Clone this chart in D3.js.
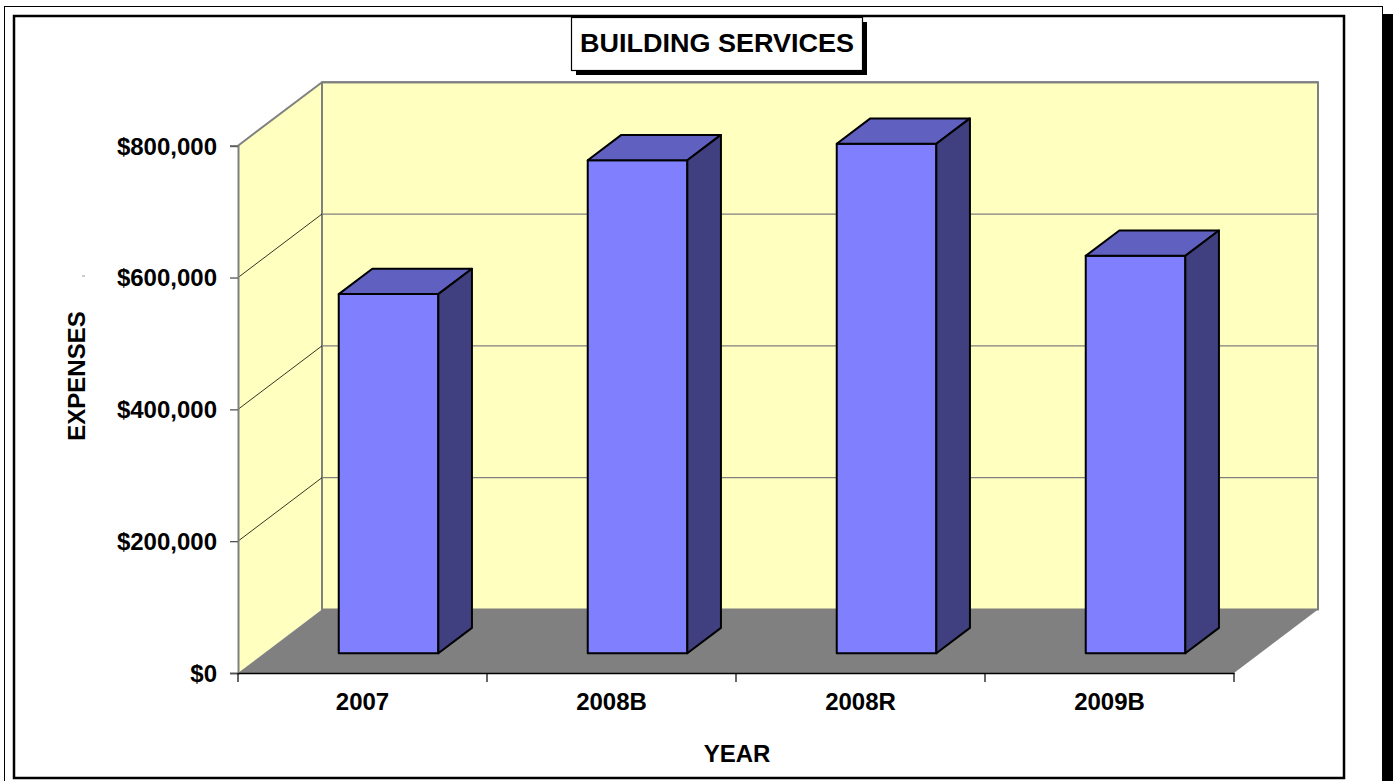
<!DOCTYPE html>
<html>
<head>
<meta charset="utf-8">
<script src="https://cdn.jsdelivr.net/npm/d3@7"></script>
<style>
body { margin: 0; background: #fff; }
text { font-family: "Liberation Sans", Arial, sans-serif; font-weight: bold; fill: #000; }
</style>
</head>
<body>
<script>
const years = ['2007', '2008B', '2008R', '2009B'];
const expenses = [545000, 748000, 773000, 603000];
const yTicks = [0, 200000, 400000, 600000, 800000];

const W = 1393, H = 781;
const plotLeft = 238, plotRight = 1234, plotBase = 673, plotTop = 145.7;
const depthX = 84, depthY = -63.5;   // full depth of the 3d box
const bar0 = 0.31, bar1 = 0.71;       // bar position along depth

const svg = d3.select('body').append('svg').attr('width', W).attr('height', H);

// outer frame + shadow
svg.append('rect').attr('x', 1383).attr('y', 14).attr('width', 10).attr('height', H - 14).attr('fill', '#000');
svg.append('rect').attr('x', 4.5).attr('y', 6.5).attr('width', 1378).attr('height', 800)
   .attr('fill', 'none').attr('stroke', '#000').attr('stroke-width', 1);
svg.append('rect').attr('x', 14).attr('y', 16).attr('width', 1330).attr('height', 762)
   .attr('fill', '#fff').attr('stroke', '#000').attr('stroke-width', 2.5);

const x = d3.scaleBand().domain(years).range([plotLeft, plotRight]);
const xBar = d3.scaleBand().domain(years).range([plotLeft, plotRight]).paddingInner(0.6).paddingOuter(0.3);
const y = d3.scaleLinear().domain([0, 800000]).range([plotBase, plotTop]);

// point on front plane x, value v, depth d (0 front .. 1 back)
const proj = (px, v, d) => [px + d * depthX, y(v) + d * depthY];
const poly = pts => 'M' + pts.map(p => p.join(',')).join('L') + 'Z';
const vMax = y.domain()[1];

// walls
svg.append('path')
   .attr('d', poly([proj(plotLeft, 0, 0), proj(plotLeft, 0, 1), proj(plotLeft, vMax, 1), proj(plotLeft, vMax, 0)]))
   .attr('fill', '#FFFFC0');
svg.append('path')
   .attr('d', poly([proj(plotLeft, 0, 1), proj(plotRight, 0, 1), proj(plotRight, vMax, 1), proj(plotLeft, vMax, 1)]))
   .attr('fill', '#FFFFC0').attr('stroke', '#808080').attr('stroke-width', 2);
// floor
svg.append('path')
   .attr('d', poly([proj(plotLeft, 0, 0), proj(plotRight, 0, 0), proj(plotRight, 0, 1), proj(plotLeft, 0, 1)]))
   .attr('fill', '#808080');

// gridlines
const grid = svg.append('g');
yTicks.filter(v => v > 0).forEach(v => {
	grid.append('line')
		.attr('x1', proj(plotLeft, v, 1)[0]).attr('y1', proj(plotLeft, v, 1)[1])
		.attr('x2', proj(plotRight, v, 1)[0]).attr('y2', proj(plotRight, v, 1)[1])
		.attr('stroke', '#808080').attr('stroke-width', v === vMax ? 2 : 1.3);
	grid.append('line')
		.attr('x1', proj(plotLeft, v, 0)[0]).attr('y1', proj(plotLeft, v, 0)[1])
		.attr('x2', proj(plotLeft, v, 1)[0]).attr('y2', proj(plotLeft, v, 1)[1])
		.attr('stroke', v === vMax ? '#808080' : '#000').attr('stroke-width', v === vMax ? 2 : 0.8);
});

// bars
const data = years.map((c, i) => ({ c, v: expenses[i] }));
const bars = svg.selectAll('g.bar').data(data).enter().append('g').attr('class', 'bar')
	.attr('stroke', '#000').attr('stroke-width', 2).attr('stroke-linejoin', 'round');
bars.each(function (d) {
	const g = d3.select(this);
	const x0 = xBar(d.c), x1 = x0 + xBar.bandwidth();
	g.append('path').attr('fill', '#8080FF')
	 .attr('d', poly([proj(x0, 0, bar0), proj(x1, 0, bar0), proj(x1, d.v, bar0), proj(x0, d.v, bar0)]));
	g.append('path').attr('fill', '#6060C0')
	 .attr('d', poly([proj(x0, d.v, bar0), proj(x1, d.v, bar0), proj(x1, d.v, bar1), proj(x0, d.v, bar1)]));
	g.append('path').attr('fill', '#404080')
	 .attr('d', poly([proj(x1, 0, bar0), proj(x1, 0, bar1), proj(x1, d.v, bar1), proj(x1, d.v, bar0)]));
});

// y axis
const yAxis = d3.axisLeft(y).tickValues(yTicks).tickFormat(d3.format('$,')).tickSize(8).tickPadding(13);
const ya = svg.append('g').attr('transform', 'translate(' + plotLeft + ',0)').call(yAxis);
ya.select('.domain').attr('stroke', '#808080').attr('stroke-width', 2);
ya.selectAll('.tick line').attr('stroke', '#555').attr('stroke-width', 1.3);
ya.selectAll('text').attr('font-size', 24).attr('font-family', '"Liberation Sans", Arial, sans-serif')
  .attr('font-weight', 'bold').attr('dy', '0.35em');

// x axis
const xAxis = d3.axisBottom(x).tickSize(0).tickPadding(20);
const xa = svg.append('g').attr('transform', 'translate(0,' + plotBase + ')').call(xAxis);
xa.select('.domain').attr('stroke', '#000').attr('stroke-width', 1.5);
xa.selectAll('text').attr('font-size', 24).attr('font-family', '"Liberation Sans", Arial, sans-serif')
  .attr('font-weight', 'bold').attr('dy', '0.7em');
// category boundary ticks
const bounds = years.map(c => x(c)).concat([plotRight]);
xa.selectAll('line.bound').data(bounds).enter().append('line').attr('class', 'bound')
  .attr('x1', d => d).attr('x2', d => d).attr('y1', 0).attr('y2', 9)
  .attr('stroke', '#000').attr('stroke-width', 1.2);

// axis titles
svg.append('text').attr('transform', 'translate(85,376) rotate(-90)')
   .attr('text-anchor', 'middle').attr('font-size', 24).text('EXPENSES');
svg.append('text').attr('x', 737).attr('y', 762)
   .attr('text-anchor', 'middle').attr('font-size', 24).text('YEAR');
svg.append('line').attr('x1', 82).attr('x2', 85).attr('y1', 276).attr('y2', 276)
   .attr('stroke', '#999').attr('stroke-width', 1);

// title box
svg.append('rect').attr('x', 576).attr('y', 22).attr('width', 291).attr('height', 53).attr('fill', '#000');
svg.append('rect').attr('x', 571.5).attr('y', 17.5).attr('width', 291).attr('height', 53)
   .attr('fill', '#fff').attr('stroke', '#000').attr('stroke-width', 1.2);
svg.append('text').attr('x', 717).attr('y', 52).attr('text-anchor', 'middle')
   .attr('font-size', 26).attr('textLength', 274).attr('lengthAdjust', 'spacingAndGlyphs')
   .text('BUILDING SERVICES');
</script>
</body>
</html>
